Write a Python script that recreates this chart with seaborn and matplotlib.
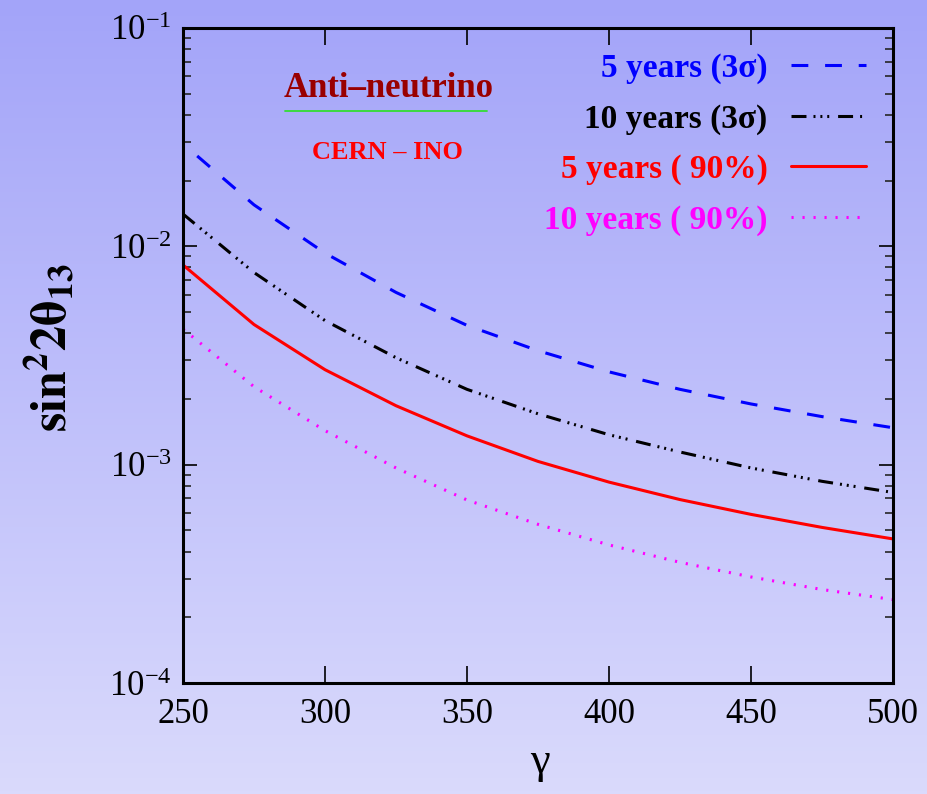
import numpy as np
import pandas as pd
import matplotlib
matplotlib.use("Agg")
import matplotlib.pyplot as plt
import matplotlib.ticker as mticker
from matplotlib.lines import Line2D
import seaborn as sns

# ---- data ----
gamma_blue = [255, 275, 300, 325, 350, 375, 400, 425, 450, 475, 500]
y5_3sig = [2.594e-2, 1.549e-2, 9.311e-3, 6.152e-3, 4.345e-3, 3.327e-3, 2.661e-3,
           2.213e-3, 1.897e-3, 1.660e-3, 1.476e-3]

gamma = [250, 275, 300, 325, 350, 375, 400, 425, 450, 475, 500]
y10_3sig = [1.406e-2, 7.586e-3, 4.571e-3, 3.090e-3, 2.213e-3, 1.710e-3, 1.371e-3,
            1.143e-3, 9.66e-4, 8.39e-4, 7.46e-4]
y5_90 = [8.22e-3, 4.385e-3, 2.723e-3, 1.862e-3, 1.355e-3, 1.035e-3, 8.32e-4,
         6.92e-4, 5.92e-4, 5.16e-4, 4.57e-4]
y10_90 = [4.18e-3, 2.275e-3, 1.432e-3, 9.66e-4, 6.89e-4, 5.33e-4, 4.29e-4,
          3.57e-4, 3.06e-4, 2.68e-4, 2.41e-4]

labels = ["5 years (3σ)", "10 years (3σ)", "5 years ( 90%)", "10 years ( 90%)"]
colors = ["#0000ff", "#000000", "#ff0000", "#ff00ff"]
xticks = [250, 300, 350, 400, 450, 500]
yticks = [1e-4, 1e-3, 1e-2, 1e-1]
ytick_labels = [r"$\mathregular{10^{-4}}$", r"$\mathregular{10^{-3}}$",
                r"$\mathregular{10^{-2}}$", r"$\mathregular{10^{-1}}$"]

sns.set_style("ticks")
plt.rcParams["font.family"] = ["Liberation Serif", "DejaVu Serif"]
plt.rcParams["mathtext.fontset"] = "stix"

W, H = 928, 794
fig = plt.figure(figsize=(W / 100, H / 100), dpi=100)

# gradient background
bg = fig.add_axes([0, 0, 1, 1], zorder=-10)
top = np.array([163, 164, 249]) / 255.0
bot = np.array([218, 218, 252]) / 255.0
t = np.linspace(0, 1, 256)[:, None]
grad = (top[None, :] * (1 - t) + bot[None, :] * t)[:, None, :]
bg.imshow(grad, aspect="auto", extent=[0, 1, 0, 1])
bg.set_axis_off()

ax = fig.add_axes([183 / W, (H - 683) / H, (893 - 183) / W, (683 - 28) / H])
ax.set_facecolor("none")

lw = 2.2
series = [
    (gamma_blue, y5_3sig, colors[0], (5.5, 5.5)),
    (gamma, y10_3sig, colors[1], (4.9, 2.3, 0.65, 1.6, 0.65, 1.6, 0.65, 2.9)),
    (gamma, y5_90, colors[2], None),
    (gamma, y10_90, colors[3], (0.7, 2.9)),
]
handles = []
for xs, ys, c, dash in series:
    df = pd.DataFrame({"g": xs, "v": ys})
    sns.lineplot(data=df, x="g", y="v", color=c, linewidth=lw, ax=ax, legend=False)
    ln = ax.lines[-1]
    ln.set_solid_joinstyle("round")
    if dash is not None:
        ln.set_dashes(dash)
    h = Line2D([0], [0], color=c, linewidth=lw)
    if dash is not None:
        h.set_dashes(dash)
    handles.append(h)

ax.set_yscale("log")
ax.set_xlim(250, 500)
ax.set_ylim(1e-4, 1e-1)
ax.set_xticks(xticks)
ax.set_xticklabels([str(v) for v in xticks])
ax.set_yticks(yticks)
ax.yaxis.set_major_formatter(mticker.FixedFormatter(ytick_labels))
ax.yaxis.set_minor_locator(mticker.LogLocator(base=10, subs=np.arange(2, 10)))
ax.yaxis.set_minor_formatter(mticker.NullFormatter())
ax.xaxis.set_minor_locator(mticker.NullLocator())

for s in ax.spines.values():
    s.set_linewidth(2.2)
    s.set_color("black")
ax.tick_params(axis="both", which="major", direction="in", top=True, right=True,
               width=1.2, color="black", labelcolor="black", labelsize=25)
ax.tick_params(axis="x", which="major", length=12, pad=11)
ax.tick_params(axis="y", which="major", length=10, pad=8)
ax.tick_params(axis="y", which="minor", direction="in", right=True, length=6, width=1.2)

ax.set_xlabel("")
ax.set_ylabel("")
fig.text(540 / W, 1 - 762 / H, "γ", fontsize=32, ha="center", va="center", color="black")
fig.text(52 / W, 1 - 348 / H, r"$\mathbf{sin^2 2\theta_{13}}$", fontsize=36,
         rotation=90, ha="center", va="center", color="black")

leg = ax.legend(handles, labels, loc="upper right",
                bbox_to_anchor=((866 - 183) / 710, (683 - 53) / 655),
                borderaxespad=0, borderpad=0,
                markerfirst=False, frameon=False, labelcolor=colors,
                prop={"family": ["Liberation Serif", "DejaVu Serif"], "weight": "bold", "size": 24},
                handlelength=2.25, handletextpad=0.7, labelspacing=0.58)

ax.text(0.29, 0.907, "Anti–neutrino", transform=ax.transAxes, ha="center", va="center",
        color="#990000", fontsize=25, fontweight="bold")
ax.plot([0.144, 0.428], [0.874, 0.874], transform=ax.transAxes, color="#33dd33", lw=1.3)
ax.text(0.288, 0.81, "CERN – INO", transform=ax.transAxes, ha="center", va="center",
        color="#ff0000", fontsize=19, fontweight="bold")

fig.savefig("out.png", dpi=100)
